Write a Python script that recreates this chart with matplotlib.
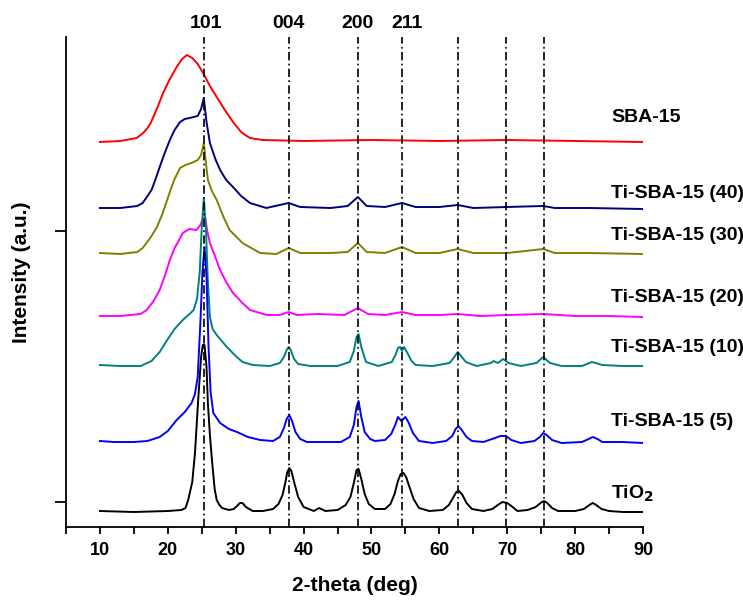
import numpy as np
import matplotlib
matplotlib.use("Agg")
import matplotlib.pyplot as plt

plt.rcParams['font.family'] = ['Liberation Sans', 'DejaVu Sans']
plt.rcParams['font.weight'] = 'bold'

## Donnees (2-theta en deg, intensite en u.a. avec decalage)

x_tio2 = [10, 15, 20, 22.0, 22.6, 23.0, 23.6, 24.0, 24.5, 24.9, 25.15, 25.4, 25.7, 25.9, 26.2,
          26.5, 26.9, 27.2, 27.6, 28, 29, 29.7, 30.2, 30.6, 31.0, 31.5, 32.5, 34, 35.5, 36.3,
          36.9, 37.3, 37.6, 37.9, 38.2, 38.6, 39.2, 40.0, 41.5, 42.3, 43.2, 45, 46.2, 46.9, 47.4,
          47.8, 48.1, 48.5, 49.0, 49.6, 50.5, 52, 52.8, 53.4, 53.9, 54.3, 54.7, 55.1, 55.6, 56.2,
          57, 58.5, 60.5, 61.4, 62.0, 62.5, 62.9, 63.4, 64.0, 64.8, 66.5, 67.8, 68.6, 69.3, 70.0,
          70.8, 71.5, 73, 74.2, 74.9, 75.4, 75.9, 76.6, 77.5, 80, 81.3, 82.1, 82.6, 83.1, 83.9,
          85, 87, 90]
y_tio2 = [16, 15, 16, 17, 19, 27, 45, 74, 130, 170, 182, 182, 160, 124, 92,
          67, 38, 27, 22, 19, 17, 18, 21, 24, 24, 20, 16, 16, 18, 23,
          32, 44, 55, 59, 56, 45, 30, 20, 16, 19, 16, 17, 22, 30, 44,
          57, 58, 48, 33, 23, 18, 18, 23, 33, 46, 53, 54, 50, 40, 28,
          19, 16, 17, 22, 29, 35, 36, 32, 24, 18, 16, 18, 22, 25, 24,
          20, 16, 17, 20, 24, 26, 24, 19, 16, 16, 18, 22, 24, 22, 18,
          16, 15, 15]

x_ti5 = [10, 12, 15, 17, 18.8, 20, 21.3, 22.5, 23.5, 24.0, 24.4, 24.8, 25.1, 25.4, 25.7,
         26.0, 26.3, 26.7, 27.7, 29, 30.2, 31.8, 33.6, 35.5, 36.5, 37.1, 37.5, 37.9, 38.3,
         38.8, 39.5, 40.5, 43, 45.5, 46.8, 47.4, 47.8, 48.1, 48.5, 49.0, 49.8, 50.5, 52, 52.9,
         53.5, 53.9, 54.4, 55, 55.5, 56.1, 57, 59, 61, 61.9, 62.4, 62.8, 63.3, 64.0, 64.8,
         66.5, 68.2, 69, 69.8, 70.6, 72, 74, 74.8, 75.3, 75.8, 76.6, 78, 81, 82.0, 82.6, 83.3,
         84, 87, 90]
y_ti5 = [86, 85, 85, 86, 90, 96, 107, 115, 124, 133, 150, 205, 255, 280, 250,
         180, 135, 114, 104, 98, 95, 90, 87, 86, 90, 99, 108, 112, 106, 95, 88, 85, 85, 85,
         90, 102, 120, 126, 110, 95, 88, 86, 87, 93, 102, 110, 106, 110, 104, 94, 86, 84,
         86, 91, 98, 101, 97, 90, 86, 85, 89, 91, 91, 87, 84, 86, 90, 94, 92, 87, 84, 85, 88,
         90, 88, 85, 85, 84]

x_ti10 = [10, 13, 16, 17.6, 18.8, 20, 21, 22.2, 23.2, 23.8, 24.3, 24.7, 25.0, 25.3, 25.6,
          25.9, 26.2, 26.6, 27.2, 28.7, 30, 31, 32.5, 35, 36.5, 37.1, 37.5, 37.8, 38.1, 38.6,
          39.2, 41, 45, 46.8, 47.4, 47.8, 48.1, 48.5, 49.2, 51, 53, 53.6, 53.9, 54.2, 54.5,
          54.8, 55.3, 55.9, 56.5, 59, 61.5, 62.2, 62.7, 63.2, 63.9, 65.5, 67.6, 68, 68.6,
          69.4, 70.2, 72, 74.3, 75.3, 76.3, 78, 81, 82.5, 84, 87, 90]
y_ti10 = [162, 161, 161, 166, 175, 188, 198, 207, 213, 217, 228, 255, 300, 329, 300,
          245, 210, 198, 192, 180, 171, 165, 162, 161, 164, 170, 177, 180, 177, 168,
          163, 161, 161, 165, 176, 190, 193, 180, 165, 161, 165, 173, 179, 180, 176,
          180, 174, 166, 162, 161, 164, 170, 175, 171, 165, 161, 164, 166, 164,
          168, 164, 161, 164, 170, 164, 161, 161, 165, 162, 161, 161]

x_ti20 = [10, 13, 16, 16.9, 17.9, 18.8, 19.6, 20.3, 21.0, 21.5, 22.2, 23.2, 24.2, 24.8, 25.2,
          25.5, 25.8, 26.2, 27.0, 27.7, 28.6, 29.6, 31, 32.1, 34.6, 36.5, 37.8, 39, 42, 46,
          48, 49.5, 52, 54.5, 56.5, 60, 62.7, 66, 70, 75.3, 80, 85, 90]
y_ti20 = [211, 211, 213, 217, 226, 237, 252, 267, 279, 285, 294, 298, 297, 302, 309,
          310, 296, 284, 270, 257, 245, 234, 224, 217, 212, 212, 215, 212, 213, 212,
          219, 213, 212, 215, 212, 212, 213, 211, 212, 213, 211, 211, 210]

x_ti30 = [10, 13, 15.5, 16.3, 17.5, 18.4, 19.2, 19.9, 20.5, 21, 21.8, 22.6, 23.5, 24.4, 24.9,
          25.3, 25.6, 25.9, 26.5, 27.2, 28.2, 29.1, 31, 33.6, 36, 37.8, 39.5, 44, 46.5, 48,
          49.3, 52, 54.5, 56.5, 60, 62.7, 65, 70, 75.3, 77, 82, 90]
y_ti30 = [274, 273, 275, 279, 290, 300, 313, 327, 339, 348, 359, 362, 364, 367, 372,
          384, 365, 347, 336, 327, 310, 297, 284, 274, 273, 279, 274, 274, 275, 284,
          275, 274, 280, 274, 274, 278, 274, 274, 278, 274, 274, 273]

x_ti40 = [10, 13, 15.5, 16.3, 17.6, 18.2, 18.8, 19.6, 20.3, 21, 21.8, 22.5, 23.2, 24.4, 24.9,
          25.3, 25.7, 26.2, 27.0, 27.7, 28.6, 29.6, 30.8, 32.1, 34.5, 37.8, 39.5, 44, 46.5, 48,
          49.3, 52, 54.5, 56.5, 60, 62.7, 65, 70, 75.3, 77, 82, 90]
y_ti40 = [319, 319, 321, 324, 337, 348, 360, 375, 387, 397, 405, 408, 409, 411, 418,
          429, 405, 384, 368, 357, 347, 340, 331, 324, 319, 324, 320, 319, 321, 330,
          321, 320, 324, 320, 320, 322, 319, 320, 321, 319, 319, 318]

x_sba = [10, 13, 15.4, 16.0, 16.5, 17.0, 17.4, 17.8, 18.5, 19.3, 20.3, 21.3, 22.1, 22.8,
         23.6, 24.4, 25.2, 26.2, 27.2, 28.4, 29.6, 30.2, 30.8, 31.4, 32.1, 33, 34, 40, 50, 60,
         70, 80, 90]
y_sba = [385, 386, 389, 392, 395, 399, 403, 409, 420, 434, 448, 460, 468, 472,
         469, 463, 454, 441, 430, 417, 405, 400, 395, 392, 389, 388, 387, 386, 387, 386,
         387, 386, 385]

# raies de l'anatase
pics = [25.3, 37.8, 48.0, 54.5, 62.7, 69.8, 75.4]
pics_noms = ["101", "004", "200", "211"]
pics_noms_x = [25.6, 37.8, 48.0, 55.2]

noms = ["SBA-15", "Ti-SBA-15 (40)", "Ti-SBA-15 (30)", "Ti-SBA-15 (20)",
        "Ti-SBA-15 (10)", "Ti-SBA-15 (5)", "TiO$_2$"]
noms_y = [409, 334, 292, 230, 180, 105, 33]

series = [(x_sba, y_sba, '#ff0000'),
          (x_ti40, y_ti40, '#000080'),
          (x_ti30, y_ti30, '#808000'),
          (x_ti20, y_ti20, '#ff00ff'),
          (x_ti10, y_ti10, '#008080'),
          (x_ti5, y_ti5, '#0000ff'),
          (x_tio2, y_tio2, '#000000')]

## Figure

fig = plt.figure(figsize=(7.43, 6.0), dpi=100)
ax = fig.add_axes([66/743, 73/600, (643-66)/743, (527-37)/600])

for xs, ys, c in series:
    ax.plot(xs, ys, color=c, lw=1.4)

for p in pics:
    ax.axvline(p, color='black', lw=1.2, linestyle=(0, (5, 2, 1, 2)))

for nom, xn in zip(pics_noms, pics_noms_x):
    ax.text(xn, 504, nom, ha='center', va='center', fontsize=14, fontweight='bold', clip_on=False)

for nom, yn in zip(noms, noms_y):
    ax.text(85.3, yn, nom, ha='left', va='center', fontsize=14, fontweight='bold', clip_on=False)

ax.set_xlim(5, 90)
ax.set_ylim(0, 490)
ax.set_xticks(range(10, 91, 10))
ax.set_xticks(range(5, 91, 10), minor=True)
ax.set_yticks([25, 296])
ax.set_yticklabels([])
ax.tick_params(axis='x', which='both', direction='out', length=5, width=1.3, labelsize=13, pad=6)
ax.tick_params(axis='y', direction='out', length=8, width=1.3)
for lbl in ax.get_xticklabels():
    lbl.set_fontweight('bold')

ax.spines['top'].set_visible(False)
ax.spines['right'].set_visible(False)
ax.spines['left'].set_linewidth(1.3)
ax.spines['bottom'].set_linewidth(1.3)

ax.set_xlabel("2-theta (deg)", fontsize=15, fontweight='bold', labelpad=12)
fig.text(22/743, 1 - 272/600, "Intensity (a.u.)", rotation=90, ha='center', va='center',
         fontsize=15, fontweight='bold')

plt.savefig("out.png", dpi=100)
